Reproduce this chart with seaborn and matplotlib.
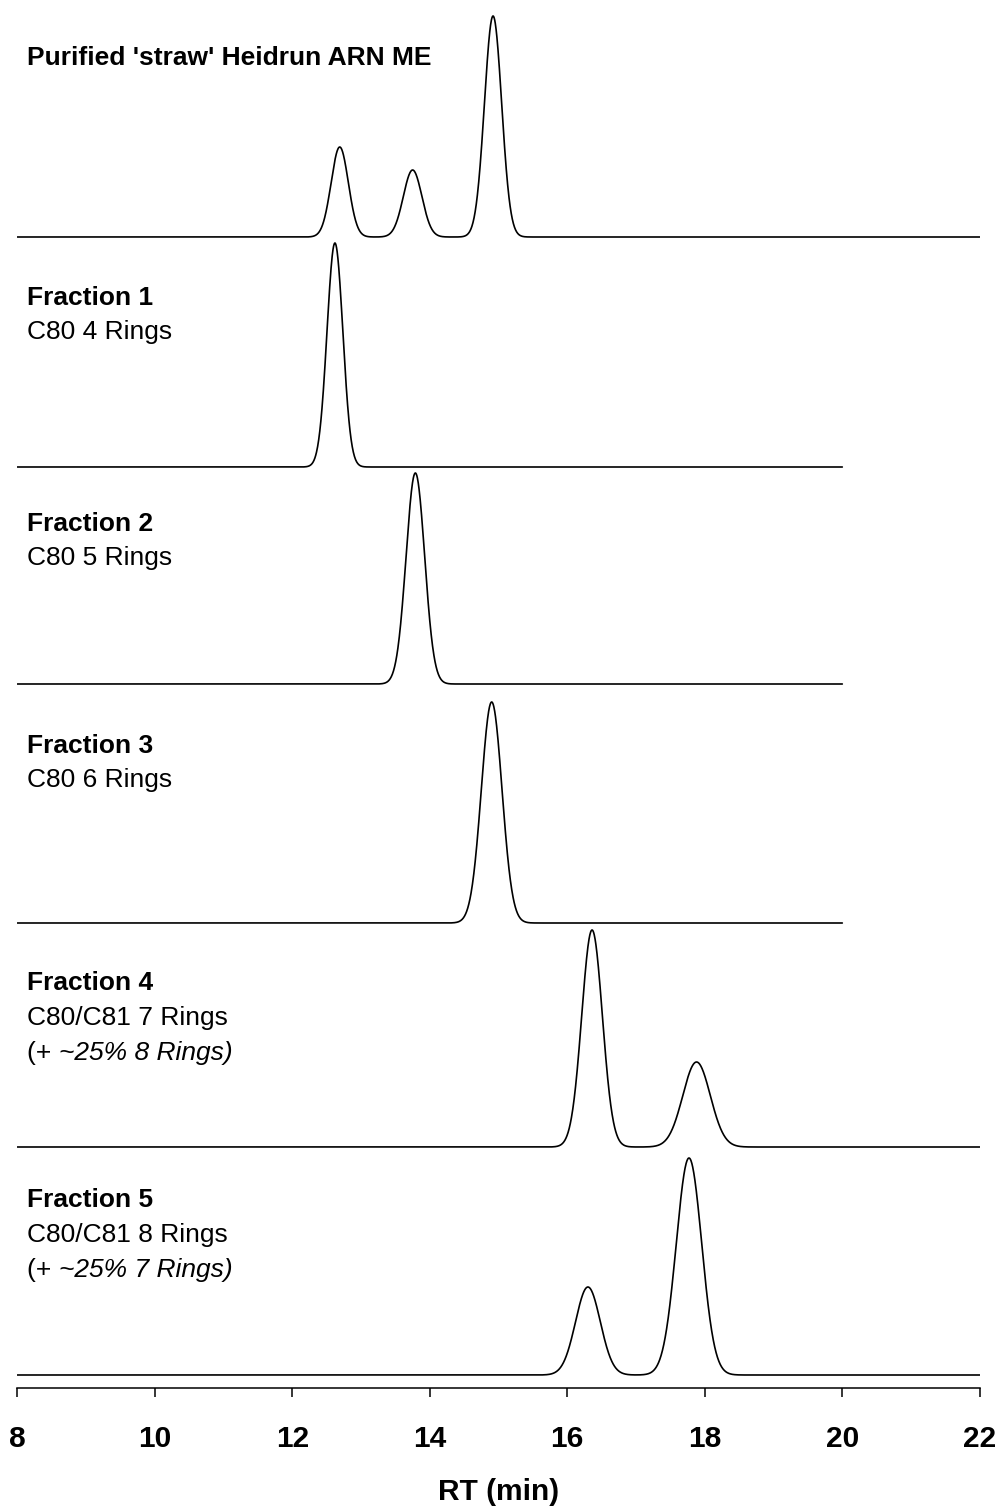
import numpy as np
import pandas as pd
import matplotlib
matplotlib.use("Agg")
import matplotlib.pyplot as plt
import seaborn as sns

# ---- data ----
trace_names = ["Purified", "Fraction 1", "Fraction 2", "Fraction 3", "Fraction 4", "Fraction 5"]
# peak retention times (min)
peak_rt = [[12.69, 13.75, 14.92], [12.62], [13.79], [14.90], [16.36, 17.88], [16.30, 17.77]]
# peak heights (arbitrary units)
peak_h = [[90, 67, 221], [224], [211], [221], [217, 85], [88, 217]]
# peak widths (sigma, min)
peak_sigma = [[0.125, 0.135, 0.125], [0.115], [0.135], [0.15], [0.15, 0.20], [0.18, 0.185]]
# end of each recorded trace (min)
rt_end = [22.0, 20.0, 20.0, 20.0, 22.0, 22.0]
# vertical stacking offsets
offsets = [1151, 921, 704, 465, 241, 13]

xticks = [8, 10, 12, 14, 16, 18, 20, 22]

rows = []
for i, name in enumerate(trace_names):
    rt = np.arange(8.0, rt_end[i] + 1e-9, 0.004)
    sig = np.zeros_like(rt)
    for c, h, s in zip(peak_rt[i], peak_h[i], peak_sigma[i]):
        sig += h * np.exp(-0.5 * ((rt - c) / s) ** 2)
    rows.append(pd.DataFrame({"trace": name, "rt": rt, "signal": sig + offsets[i]}))
df = pd.concat(rows, ignore_index=True)

sns.set_theme(style="ticks")
plt.rcParams["font.family"] = ["Liberation Sans", "DejaVu Sans"]
plt.rcParams["text.color"] = "black"
plt.rcParams["axes.labelcolor"] = "black"
plt.rcParams["xtick.color"] = "black"

W, H = 1004, 1508
fig = plt.figure(figsize=(W / 100, H / 100), dpi=100)
ax_left, ax_right = 17.3, 979.8
ax_bottom_px = 1388
ax = fig.add_axes([ax_left / W, 1 - ax_bottom_px / H, (ax_right - ax_left) / W, ax_bottom_px / H])

sns.lineplot(data=df, x="rt", y="signal", units="trace", estimator=None,
             color="black", linewidth=1.2, ax=ax, legend=False)

ax.set_xlim(8, 22)
ax.set_ylim(0, ax_bottom_px)
ax.set_xticks(xticks)
ax.set_xticklabels([str(t) for t in xticks], fontsize=21.5, fontweight="bold", color="black")
ax.tick_params(axis="x", direction="out", length=6.5, width=1.1, pad=20, colors="black")
ax.set_yticks([])
ax.set_ylabel("")
ax.set_xlabel("RT (min)", fontsize=21.5, fontweight="bold", labelpad=18, color="black")
sns.despine(ax=ax, left=True, top=True, right=True)
ax.spines["bottom"].set_linewidth(1.1)
ax.spines["bottom"].set_color("black")
ax.patch.set_alpha(0)

fs = 19
x0 = 27 / W

def ftext(ypix, s, **kw):
    return fig.text(x0, 1 - ypix / H, s, fontsize=fs, va="baseline", ha="left",
                    color="black", **kw)

ftext(65, "Purified 'straw' Heidrun ARN ME", fontweight="bold")
ftext(305, "Fraction 1", fontweight="bold")
ftext(339, "C80 4 Rings")
ftext(531, "Fraction 2", fontweight="bold")
ftext(565, "C80 5 Rings")
ftext(753, "Fraction 3", fontweight="bold")
ftext(787, "C80 6 Rings")
ftext(990, "Fraction 4", fontweight="bold")
ftext(1025, "C80/C81 7 Rings")
t4 = ftext(1060, "(+ ")
ftext(1207, "Fraction 5", fontweight="bold")
ftext(1242, "C80/C81 8 Rings")
t5 = ftext(1277, "(+ ")

fig.canvas.draw()
r = fig.canvas.get_renderer()
for t, s in [(t4, "~25% 8 Rings)"), (t5, "~25% 7 Rings)")]:
    bb = t.get_window_extent(renderer=r)
    fig.text(bb.x1 / W, t.get_position()[1], s, fontsize=fs, va="baseline",
             ha="left", fontstyle="italic", color="black")

fig.savefig("out.png", dpi=100, facecolor="white")
